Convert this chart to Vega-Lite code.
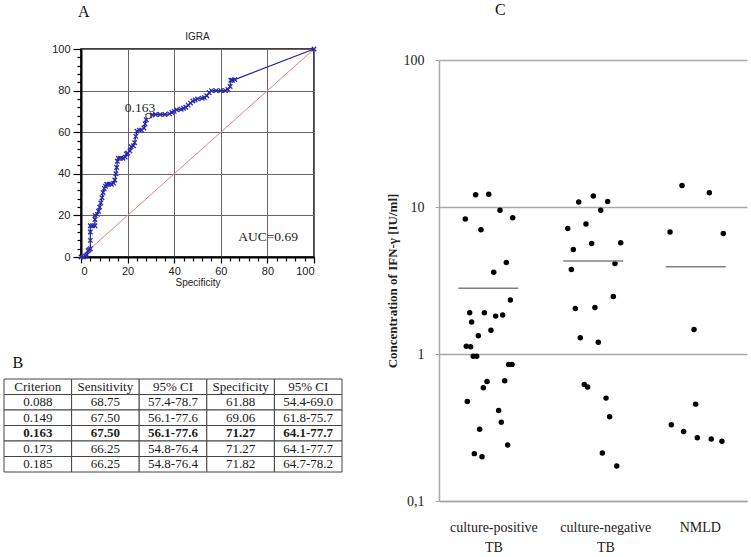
{
  "$schema": "https://vega.github.io/schema/vega-lite/v6.json",
  "background": "white",
  "padding": {"left": 3, "top": 2, "right": 2, "bottom": 2},
  "config": {"view": {"stroke": null}, "font": "Liberation Sans"},
  "datasets": {
    "diag": [{"x": 0, "y": 0}, {"x": 100, "y": 100}],
    "roc": [
      {"fpr": 0, "tpr": 0}, {"fpr": 1, "tpr": 0}, {"fpr": 2, "tpr": 0.5}, {"fpr": 2.5, "tpr": 1}, {"fpr": 3, "tpr": 3},
      {"fpr": 3.5, "tpr": 3.5}, {"fpr": 4, "tpr": 4}, {"fpr": 4, "tpr": 8}, {"fpr": 4, "tpr": 12}, {"fpr": 4, "tpr": 15},
      {"fpr": 5, "tpr": 15}, {"fpr": 6, "tpr": 15}, {"fpr": 6, "tpr": 18}, {"fpr": 6, "tpr": 20}, {"fpr": 7, "tpr": 20.5},
      {"fpr": 7.5, "tpr": 22}, {"fpr": 8, "tpr": 24}, {"fpr": 8.5, "tpr": 26}, {"fpr": 9, "tpr": 28.5}, {"fpr": 9.5, "tpr": 31},
      {"fpr": 10, "tpr": 33}, {"fpr": 10.5, "tpr": 34}, {"fpr": 11, "tpr": 35}, {"fpr": 12, "tpr": 35}, {"fpr": 13, "tpr": 35},
      {"fpr": 14, "tpr": 35.5}, {"fpr": 14.5, "tpr": 37}, {"fpr": 15, "tpr": 40}, {"fpr": 15.3, "tpr": 43}, {"fpr": 15.6, "tpr": 46},
      {"fpr": 16, "tpr": 47.5}, {"fpr": 17, "tpr": 47.5}, {"fpr": 18, "tpr": 47.5}, {"fpr": 19, "tpr": 48}, {"fpr": 19.5, "tpr": 49.5},
      {"fpr": 20, "tpr": 50}, {"fpr": 21, "tpr": 51}, {"fpr": 21.5, "tpr": 53}, {"fpr": 22.5, "tpr": 53.5}, {"fpr": 23, "tpr": 55},
      {"fpr": 23.5, "tpr": 58}, {"fpr": 24, "tpr": 60.5}, {"fpr": 25, "tpr": 61}, {"fpr": 26, "tpr": 61}, {"fpr": 27, "tpr": 62},
      {"fpr": 27.5, "tpr": 64}, {"fpr": 28, "tpr": 66}, {"fpr": 28.7, "tpr": 67.6}, {"fpr": 29.5, "tpr": 68}, {"fpr": 30.5, "tpr": 68.3},
      {"fpr": 32, "tpr": 68.5}, {"fpr": 34, "tpr": 68.5}, {"fpr": 36, "tpr": 68.5}, {"fpr": 38, "tpr": 68.8}, {"fpr": 39, "tpr": 69.5},
      {"fpr": 40, "tpr": 70}, {"fpr": 41, "tpr": 70.8}, {"fpr": 43, "tpr": 71}, {"fpr": 44, "tpr": 71.5}, {"fpr": 45, "tpr": 72},
      {"fpr": 46, "tpr": 73}, {"fpr": 47, "tpr": 74}, {"fpr": 48, "tpr": 75}, {"fpr": 49, "tpr": 75.5}, {"fpr": 50, "tpr": 76},
      {"fpr": 52, "tpr": 76.3}, {"fpr": 53, "tpr": 76.6}, {"fpr": 54, "tpr": 77.5}, {"fpr": 55, "tpr": 79}, {"fpr": 56, "tpr": 80},
      {"fpr": 58, "tpr": 80}, {"fpr": 60, "tpr": 80}, {"fpr": 62, "tpr": 80}, {"fpr": 63, "tpr": 80.5}, {"fpr": 64, "tpr": 82},
      {"fpr": 64.3, "tpr": 85}, {"fpr": 65, "tpr": 85}, {"fpr": 66, "tpr": 85.3}, {"fpr": 100, "tpr": 100}
    ],
    "cut": [{"x": 28.9, "y": 67.8}],
    "notesA": [{"x": 25.3, "y": 71.6, "t": "0.163"}, {"x": 80.3, "y": 9.6, "t": "AUC=0.69"}],
    "tbl": [
      {"r": 0, "c": 0, "t": "Criterion"}, {"r": 0, "c": 1, "t": "Sensitivity"}, {"r": 0, "c": 2, "t": "95% CI"}, {"r": 0, "c": 3, "t": "Specificity"}, {"r": 0, "c": 4, "t": "95% CI"},
      {"r": 1, "c": 0, "t": "0.088"}, {"r": 1, "c": 1, "t": "68.75"}, {"r": 1, "c": 2, "t": "57.4-78.7"}, {"r": 1, "c": 3, "t": "61.88"}, {"r": 1, "c": 4, "t": "54.4-69.0"},
      {"r": 2, "c": 0, "t": "0.149"}, {"r": 2, "c": 1, "t": "67.50"}, {"r": 2, "c": 2, "t": "56.1-77.6"}, {"r": 2, "c": 3, "t": "69.06"}, {"r": 2, "c": 4, "t": "61.8-75.7"},
      {"r": 3, "c": 0, "t": "0.163"}, {"r": 3, "c": 1, "t": "67.50"}, {"r": 3, "c": 2, "t": "56.1-77.6"}, {"r": 3, "c": 3, "t": "71.27"}, {"r": 3, "c": 4, "t": "64.1-77.7"},
      {"r": 4, "c": 0, "t": "0.173"}, {"r": 4, "c": 1, "t": "66.25"}, {"r": 4, "c": 2, "t": "54.8-76.4"}, {"r": 4, "c": 3, "t": "71.27"}, {"r": 4, "c": 4, "t": "64.1-77.7"},
      {"r": 5, "c": 0, "t": "0.185"}, {"r": 5, "c": 1, "t": "66.25"}, {"r": 5, "c": 2, "t": "54.8-76.4"}, {"r": 5, "c": 3, "t": "71.82"}, {"r": 5, "c": 4, "t": "64.7-78.2"}
    ],
    "pts": [
      {"g": "pos", "jx": 0.256, "v": 8.28}, {"g": "pos", "jx": 0.357, "v": 12.1}, {"g": "pos", "jx": 0.484, "v": 12.2}, {"g": "pos", "jx": 0.409, "v": 7.0},
      {"g": "pos", "jx": 0.594, "v": 9.5}, {"g": "pos", "jx": 0.718, "v": 8.45}, {"g": "pos", "jx": 0.656, "v": 4.19}, {"g": "pos", "jx": 0.533, "v": 3.6},
      {"g": "pos", "jx": 0.695, "v": 2.33}, {"g": "pos", "jx": 0.299, "v": 1.91}, {"g": "pos", "jx": 0.442, "v": 1.91}, {"g": "pos", "jx": 0.552, "v": 1.81},
      {"g": "pos", "jx": 0.62, "v": 1.84}, {"g": "pos", "jx": 0.318, "v": 1.65}, {"g": "pos", "jx": 0.506, "v": 1.45}, {"g": "pos", "jx": 0.383, "v": 1.33},
      {"g": "pos", "jx": 0.266, "v": 1.13}, {"g": "pos", "jx": 0.308, "v": 1.12}, {"g": "pos", "jx": 0.334, "v": 0.965}, {"g": "pos", "jx": 0.367, "v": 0.965},
      {"g": "pos", "jx": 0.679, "v": 0.85}, {"g": "pos", "jx": 0.711, "v": 0.85}, {"g": "pos", "jx": 0.468, "v": 0.651}, {"g": "pos", "jx": 0.64, "v": 0.658},
      {"g": "pos", "jx": 0.432, "v": 0.589}, {"g": "pos", "jx": 0.276, "v": 0.475}, {"g": "pos", "jx": 0.581, "v": 0.413}, {"g": "pos", "jx": 0.607, "v": 0.344},
      {"g": "pos", "jx": 0.396, "v": 0.308}, {"g": "pos", "jx": 0.669, "v": 0.24}, {"g": "pos", "jx": 0.344, "v": 0.21}, {"g": "pos", "jx": 0.419, "v": 0.2},
      {"g": "neg", "jx": 1.361, "v": 10.8}, {"g": "neg", "jx": 1.503, "v": 11.9}, {"g": "neg", "jx": 1.643, "v": 10.9}, {"g": "neg", "jx": 1.575, "v": 9.5},
      {"g": "neg", "jx": 1.254, "v": 7.15}, {"g": "neg", "jx": 1.432, "v": 7.66}, {"g": "neg", "jx": 1.308, "v": 5.14}, {"g": "neg", "jx": 1.487, "v": 5.65},
      {"g": "neg", "jx": 1.77, "v": 5.71}, {"g": "neg", "jx": 1.714, "v": 4.13}, {"g": "neg", "jx": 1.289, "v": 3.76}, {"g": "neg", "jx": 1.328, "v": 2.04},
      {"g": "neg", "jx": 1.519, "v": 2.07}, {"g": "neg", "jx": 1.698, "v": 2.46}, {"g": "neg", "jx": 1.376, "v": 1.29}, {"g": "neg", "jx": 1.552, "v": 1.2},
      {"g": "neg", "jx": 1.415, "v": 0.621}, {"g": "neg", "jx": 1.448, "v": 0.596}, {"g": "neg", "jx": 1.627, "v": 0.501}, {"g": "neg", "jx": 1.662, "v": 0.374},
      {"g": "neg", "jx": 1.591, "v": 0.212}, {"g": "neg", "jx": 1.731, "v": 0.173},
      {"g": "nmld", "jx": 2.367, "v": 14.0}, {"g": "nmld", "jx": 2.633, "v": 12.5}, {"g": "nmld", "jx": 2.25, "v": 6.76}, {"g": "nmld", "jx": 2.769, "v": 6.61},
      {"g": "nmld", "jx": 2.484, "v": 1.47}, {"g": "nmld", "jx": 2.5, "v": 0.456}, {"g": "nmld", "jx": 2.263, "v": 0.33}, {"g": "nmld", "jx": 2.383, "v": 0.297},
      {"g": "nmld", "jx": 2.516, "v": 0.269}, {"g": "nmld", "jx": 2.652, "v": 0.264}, {"g": "nmld", "jx": 2.756, "v": 0.255}
    ],
    "means": [{"g": "pos", "jx": 0.48, "m": 2.8}, {"g": "neg", "jx": 1.503, "m": 4.3}, {"g": "nmld", "jx": 2.5, "m": 3.92}]
  },
  "hconcat": [
    {
      "vconcat": [
        {
          "title": {"text": "A", "anchor": "start", "dx": 27, "font": "Liberation Serif", "fontSize": 16, "fontWeight": "normal", "color": "#111", "offset": 11},
          "vconcat": [
            {
              "width": 233,
              "height": 208,
              "view": {"stroke": "black", "strokeWidth": 1.5},
              "title": {"text": "IGRA", "font": "Liberation Sans", "fontSize": 10, "fontWeight": "normal", "color": "#222", "offset": 1},
              "resolve": {"axis": {"x": "independent", "y": "independent"}},
              "layer": [
                {
                  "data": {"name": "diag"},
                  "mark": {"type": "line", "color": "#e68080", "strokeWidth": 1},
                  "encoding": {
                    "x": {"field": "x", "type": "quantitative", "scale": {"domain": [0, 100], "nice": false},
                      "axis": {"orient": "bottom", "values": [0, 20, 40, 60, 80, 100], "grid": true, "gridColor": "#666", "gridWidth": 1, "gridOpacity": 1,
                        "tickSize": 6, "tickColor": "black", "tickWidth": 1.2, "domainColor": "black", "domainWidth": 2,
                        "labelFont": "Liberation Sans", "labelFontSize": 11, "labelColor": "#222", "labelPadding": 2,
                        "title": "Specificity", "titleFont": "Liberation Sans", "titleFontSize": 10, "titleFontWeight": "normal", "titleColor": "#222", "titlePadding": 1}},
                    "y": {"field": "y", "type": "quantitative", "scale": {"domain": [0, 100], "nice": false},
                      "axis": {"orient": "left", "values": [0, 20, 40, 60, 80, 100], "grid": true, "gridColor": "#666", "gridWidth": 1, "gridOpacity": 1,
                        "tickSize": 8, "tickColor": "black", "tickWidth": 1.2, "domainColor": "black", "domainWidth": 2,
                        "labelFont": "Liberation Sans", "labelFontSize": 11, "labelColor": "#222", "labelPadding": 3,
                        "title": null}}
                  }
                },
                {
                  "data": {"name": "roc"},
                  "mark": {"type": "line", "color": "#22229a", "strokeWidth": 1.3},
                  "encoding": {
                    "x": {"field": "fpr", "type": "quantitative",
                      "axis": {"orient": "bottom", "values": [4, 8, 12, 16, 24, 28, 32, 36, 44, 48, 52, 56, 64, 68, 72, 76, 84, 88, 92, 96],
                        "labels": false, "grid": false, "domain": false, "tickSize": 4, "tickColor": "black", "tickWidth": 1.2, "title": null}},
                    "y": {"field": "tpr", "type": "quantitative",
                      "axis": {"orient": "left", "values": [4, 8, 12, 16, 24, 28, 32, 36, 44, 48, 52, 56, 64, 68, 72, 76, 84, 88, 92, 96],
                        "labels": false, "grid": false, "domain": false, "tickSize": 4, "tickColor": "black", "tickWidth": 1.2, "title": null}}
                  }
                },
                {
                  "data": {"name": "roc"},
                  "mark": {"type": "point", "shape": "M-1,-1L1,1M-1,1L1,-1", "filled": false, "stroke": "#2a2ab0", "strokeWidth": 1.3, "size": 20, "opacity": 1},
                  "encoding": {
                    "x": {"field": "fpr", "type": "quantitative", "axis": null},
                    "y": {"field": "tpr", "type": "quantitative", "axis": null}
                  }
                },
                {
                  "data": {"name": "cut"},
                  "mark": {"type": "point", "shape": "circle", "filled": true, "fill": "white", "stroke": "#333", "strokeWidth": 1, "size": 28, "opacity": 1},
                  "encoding": {
                    "x": {"field": "x", "type": "quantitative", "axis": null},
                    "y": {"field": "y", "type": "quantitative", "axis": null}
                  }
                },
                {
                  "data": {"name": "notesA"},
                  "mark": {"type": "text", "font": "Liberation Serif", "fontSize": 13.5, "color": "#222"},
                  "encoding": {
                    "x": {"field": "x", "type": "quantitative", "axis": null},
                    "y": {"field": "y", "type": "quantitative", "axis": null},
                    "text": {"field": "t"}
                  }
                }
              ]
            }
          ]
        },
        {
          "title": {"text": "B", "anchor": "start", "dx": 9, "font": "Liberation Serif", "fontSize": 16, "fontWeight": "normal", "color": "#111", "offset": 8},
          "vconcat": [
            {
              "width": 261,
              "height": 93,
              "data": {"name": "tbl"},
              "encoding": {
                "x": {"field": "c", "type": "ordinal", "scale": {"paddingInner": 0, "paddingOuter": 0, "range": [-77, 261]}, "axis": null},
                "y": {"field": "r", "type": "ordinal", "scale": {"paddingInner": 0, "paddingOuter": 0}, "axis": null}
              },
              "layer": [
                {"mark": {"type": "rect", "fill": "white", "stroke": "#444", "strokeWidth": 1}},
                {
                  "transform": [{"filter": "datum.r != 3"}],
                  "mark": {"type": "text", "font": "Liberation Serif", "fontSize": 13, "color": "#1a1a1a", "baseline": "middle"},
                  "encoding": {"text": {"field": "t"}}
                },
                {
                  "transform": [{"filter": "datum.r == 3"}],
                  "mark": {"type": "text", "font": "Liberation Serif", "fontSize": 13, "fontWeight": "bold", "color": "#1a1a1a", "baseline": "middle"},
                  "encoding": {"text": {"field": "t"}}
                }
              ]
            }
          ]
        }
      ],
      "spacing": 66
    },
    {
      "title": {"text": "C", "anchor": "start", "dx": 109, "font": "Liberation Serif", "fontSize": 16, "fontWeight": "normal", "color": "#111", "offset": 31},
      "vconcat": [
        {
          "width": 308,
          "height": 452,
          "layer": [
            {
              "data": {"name": "pts"},
              "mark": {"type": "point", "shape": "circle", "filled": true, "color": "black", "size": 30, "opacity": 1},
              "encoding": {
                "x": {"field": "jx", "type": "quantitative", "scale": {"domain": [0, 3], "nice": false},
                  "axis": {"values": [0.53, 1.62, 2.54], "labelExpr": "datum.value < 1 ? ['culture-positive', 'TB'] : datum.value < 2 ? ['culture-negative', 'TB'] : 'NMLD'",
                    "grid": false, "ticks": false, "domainColor": "#a8a8a8", "domainWidth": 1.5, "labelFont": "Liberation Serif", "labelFontSize": 14,
                    "labelColor": "#222", "labelPadding": 19, "labelLineHeight": 20, "labelBaseline": "top", "title": null}},
                "y": {"field": "v", "type": "quantitative", "scale": {"type": "log", "domain": [0.1, 100], "nice": false, "range": [452, 11]},
                  "axis": {"values": [0.1, 1, 10, 100], "labelExpr": "datum.value < 0.5 ? '0,1' : datum.label", "format": "~g",
                    "grid": true, "gridColor": "#a8a8a8", "gridWidth": 1.5, "gridOpacity": 1, "domainColor": "#a8a8a8", "domainWidth": 1.5,
                    "tickColor": "#a8a8a8", "tickSize": 4, "labelFont": "Liberation Serif", "labelFontSize": 14, "labelColor": "#222", "labelPadding": 11,
                    "title": "Concentration of IFN-γ [IU/ml]", "titleFont": "Liberation Serif", "titleFontSize": 13, "titleFontWeight": "bold", "titleColor": "#222", "titlePadding": 4}}
              }
            },
            {
              "data": {"name": "means"},
              "mark": {"type": "tick", "orient": "horizontal", "color": "#808080", "thickness": 1.5, "size": 60, "opacity": 1},
              "encoding": {
                "x": {"field": "jx", "type": "quantitative"},
                "y": {"field": "m", "type": "quantitative"}
              }
            }
          ]
        }
      ]
    }
  ],
  "spacing": 43
}
